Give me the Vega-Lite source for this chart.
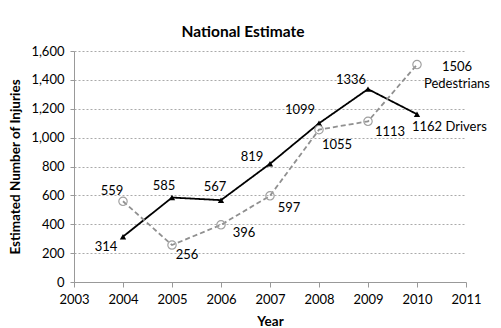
{
"$schema": "https://vega.github.io/schema/vega-lite/v6.json",
"width": 392, "height": 231,
"autosize": {"type": "none"},
"padding": {"left": 74, "top": 51, "right": 35, "bottom": 46},
"background": "white",
"title": {"text": "National Estimate", "font": "Lato", "fontSize": 15.5, "fontWeight": "bold", "color": "#000", "anchor": "middle", "dx": -27, "offset": 5},
"config": {
  "view": {"stroke": null},
  "text": {"font": "Lato", "fontSize": 13, "color": "#000"},
  "axis": {"labelFont": "Lato", "labelFontSize": 13, "labelColor": "#000", "titleFont": "Lato", "titleFontSize": 13.5, "titleFontWeight": "bold", "titleColor": "#000", "domainColor": "#999", "tickColor": "#999", "labelOverlap": false, "labelFlush": false}
},
"data": {"values": [
  {"series": "Drivers", "year": 2004, "value": 314, "label": "314"},
  {"series": "Drivers", "year": 2005, "value": 585, "label": "585"},
  {"series": "Drivers", "year": 2006, "value": 567, "label": "567"},
  {"series": "Drivers", "year": 2007, "value": 819, "label": "819"},
  {"series": "Drivers", "year": 2008, "value": 1099, "label": "1099"},
  {"series": "Drivers", "year": 2009, "value": 1336, "label": "1336"},
  {"series": "Drivers", "year": 2010, "value": 1162, "label": "1162 Drivers"},
  {"series": "Pedestrians", "year": 2004, "value": 559, "label": "559"},
  {"series": "Pedestrians", "year": 2005, "value": 256, "label": "256"},
  {"series": "Pedestrians", "year": 2006, "value": 396, "label": "396"},
  {"series": "Pedestrians", "year": 2007, "value": 597, "label": "597"},
  {"series": "Pedestrians", "year": 2008, "value": 1055, "label": "1055"},
  {"series": "Pedestrians", "year": 2009, "value": 1113, "label": "1113"},
  {"series": "Pedestrians", "year": 2010, "value": 1506, "label": "1506\nPedestrians"}
]},
"encoding": {
  "x": {"field": "year", "type": "quantitative", "scale": {"domain": [2003, 2011], "nice": false, "zero": false},
        "axis": {"title": "Year", "format": "d", "values": [2003,2004,2005,2006,2007,2008,2009,2010,2011], "grid": false, "tickSize": 5, "labelPadding": 6, "titlePadding": 8}},
  "y": {"field": "value", "type": "quantitative", "scale": {"domain": [0, 1600], "nice": false},
        "axis": {"title": "Estimated Number of Injuries", "format": ",d", "values": [0,200,400,600,800,1000,1200,1400,1600], "grid": true, "gridDash": [2, 2], "gridColor": "#aaa", "tickSize": 4, "labelPadding": 6, "titlePadding": 8}}
},
"layer": [
  {"mark": {"type": "line", "strokeWidth": 1.8},
   "encoding": {
     "color": {"field": "series", "type": "nominal", "scale": {"domain": ["Drivers", "Pedestrians"], "range": ["#000000", "#909090"]}, "legend": null},
     "strokeDash": {"field": "series", "type": "nominal", "scale": {"domain": ["Drivers", "Pedestrians"], "range": [[1, 0], [5, 3]]}, "legend": null}
   }},
  {"transform": [{"filter": "datum.series == 'Drivers'"}],
   "mark": {"type": "point", "shape": "triangle-up", "filled": true, "color": "#000", "size": 40, "opacity": 1}},
  {"transform": [{"filter": "datum.series == 'Pedestrians'"}],
   "mark": {"type": "point", "shape": "circle", "filled": false, "stroke": "#a0a0a0", "strokeWidth": 1.2, "size": 70, "opacity": 1}},
  {"transform": [{"filter": "datum.series == 'Drivers' && datum.year == 2004"}], "mark": {"type": "text", "dx": -17, "dy": 10}, "encoding": {"text": {"field": "label"}}},
  {"transform": [{"filter": "datum.series == 'Drivers' && datum.year == 2005"}], "mark": {"type": "text", "dx": -8, "dy": -12}, "encoding": {"text": {"field": "label"}}},
  {"transform": [{"filter": "datum.series == 'Drivers' && datum.year == 2006"}], "mark": {"type": "text", "dx": -6, "dy": -13}, "encoding": {"text": {"field": "label"}}},
  {"transform": [{"filter": "datum.series == 'Drivers' && datum.year == 2007"}], "mark": {"type": "text", "dx": -18, "dy": -7}, "encoding": {"text": {"field": "label"}}},
  {"transform": [{"filter": "datum.series == 'Drivers' && datum.year == 2008"}], "mark": {"type": "text", "dx": -19, "dy": -13}, "encoding": {"text": {"field": "label"}}},
  {"transform": [{"filter": "datum.series == 'Drivers' && datum.year == 2009"}], "mark": {"type": "text", "dx": -17, "dy": -9}, "encoding": {"text": {"field": "label"}}},
  {"transform": [{"filter": "datum.series == 'Drivers' && datum.year == 2010"}], "mark": {"type": "text", "align": "left", "dx": -5, "dy": 13}, "encoding": {"text": {"field": "label"}}},
  {"transform": [{"filter": "datum.series == 'Pedestrians' && datum.year == 2004"}], "mark": {"type": "text", "dx": -11, "dy": -10}, "encoding": {"text": {"field": "label"}}},
  {"transform": [{"filter": "datum.series == 'Pedestrians' && datum.year == 2005"}], "mark": {"type": "text", "dx": 15, "dy": 10}, "encoding": {"text": {"field": "label"}}},
  {"transform": [{"filter": "datum.series == 'Pedestrians' && datum.year == 2006"}], "mark": {"type": "text", "dx": 23, "dy": 8}, "encoding": {"text": {"field": "label"}}},
  {"transform": [{"filter": "datum.series == 'Pedestrians' && datum.year == 2007"}], "mark": {"type": "text", "dx": 19, "dy": 12}, "encoding": {"text": {"field": "label"}}},
  {"transform": [{"filter": "datum.series == 'Pedestrians' && datum.year == 2008"}], "mark": {"type": "text", "dx": 18, "dy": 15}, "encoding": {"text": {"field": "label"}}},
  {"transform": [{"filter": "datum.series == 'Pedestrians' && datum.year == 2009"}], "mark": {"type": "text", "dx": 22, "dy": 11}, "encoding": {"text": {"field": "label"}}},
  {"transform": [{"filter": "datum.series == 'Pedestrians' && datum.year == 2010"}], "mark": {"type": "text", "dx": 40, "dy": 2, "lineBreak": "\n", "lineHeight": 17}, "encoding": {"text": {"field": "label"}}}
]
}
